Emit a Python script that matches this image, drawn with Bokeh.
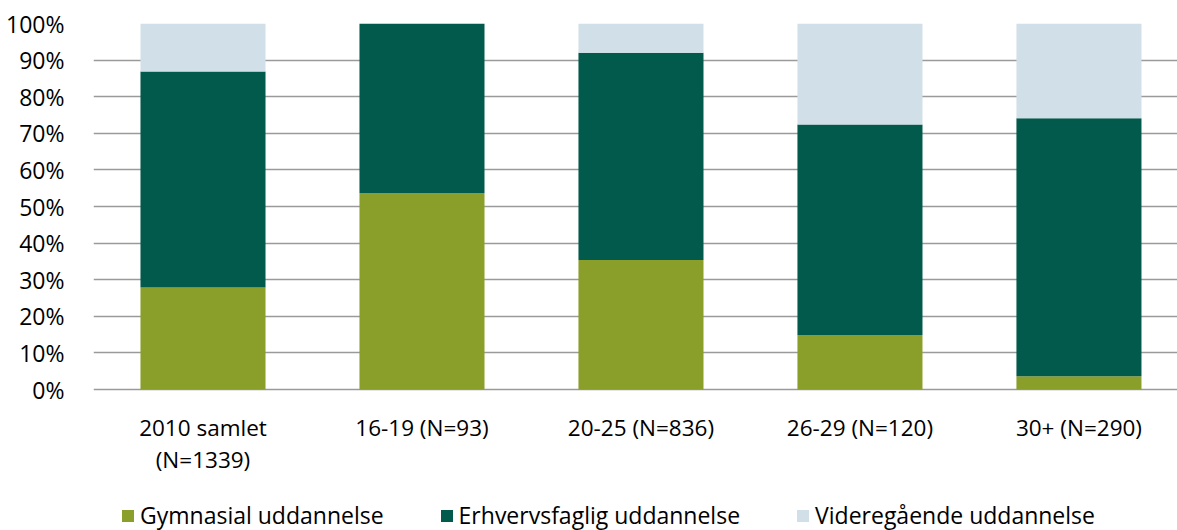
from bokeh.plotting import figure
from bokeh.models import (Range1d, FixedTicker, PrintfTickFormatter, ColumnDataSource,
                          Legend, LegendItem)
from bokeh.embed import file_html
from bokeh.resources import INLINE

# ---- data ----
categories = ["2010 samlet\n(N=1339)", "16-19 (N=93)", "20-25 (N=836)", "26-29 (N=120)", "30+ (N=290)"]
series_names = ["Gymnasial uddannelse", "Erhvervsfaglig uddannelse", "Videregående uddannelse"]
gymnasial = [27.9, 53.7, 35.4, 14.9, 3.6]
erhvervsfaglig = [59.0, 46.3, 56.6, 57.5, 70.5]
videregaende = [13.1, 0.0, 8.0, 27.6, 25.9]
y_ticks = [0, 10, 20, 30, 40, 50, 60, 70, 80, 90, 100]

colors = ["#8A9E2A", "#025A4C", "#D1E0E8"]
FONT = "Open Sans"

# layout: frame spans from y=23 to the bottom (530); 0% sits at y=389
PX_PER_PCT = 3.66
y_min = -(530 - 389) / PX_PER_PCT

x = list(range(len(categories)))
source = ColumnDataSource(dict(x=x, g=gymnasial, e=erhvervsfaglig, v=videregaende))

p = figure(width=1177, height=530, output_backend="svg", toolbar_location=None,
           x_range=Range1d(-0.5, 4.45), y_range=Range1d(y_min, 100),
           min_border_left=93, min_border_right=0, min_border_top=23, min_border_bottom=0,
           background_fill_color="white", border_fill_color="white")
p.outline_line_color = None

renderers = p.vbar_stack(["g", "e", "v"], x="x", width=0.571, source=source,
                         color=colors, line_color=None)

# axes
p.xaxis.fixed_location = 0
p.xaxis.ticker = FixedTicker(ticks=x)
p.xaxis.major_label_overrides = {i: c for i, c in zip(x, categories)}
p.yaxis.ticker = FixedTicker(ticks=y_ticks)
p.yaxis.formatter = PrintfTickFormatter(format="%d%%")
for ax in (p.xaxis[0], p.yaxis[0]):
    ax.axis_line_color = None
    ax.major_tick_line_color = None
    ax.minor_tick_line_color = None
    ax.major_label_text_font = FONT
    ax.major_label_text_font_size = "22.5px"
    ax.major_label_text_color = "black"
p.yaxis.major_label_text_font_size = "23px"
p.yaxis.major_label_standoff = 23
p.xaxis.major_label_standoff = 16
p.xaxis.major_label_text_line_height = 1.05

p.xgrid.grid_line_color = None
p.ygrid.grid_line_color = "#9a9a9a"
p.ygrid.grid_line_width = 1.5
p.ygrid.ticker = FixedTicker(ticks=y_ticks)

legend = Legend(items=[LegendItem(label=n, renderers=[r]) for n, r in zip(series_names, renderers)],
                orientation="horizontal", location=(27, -1),
                glyph_width=15, glyph_height=15, label_standoff=5, spacing=55,
                padding=0, margin=0, border_line_color=None, background_fill_alpha=0,
                label_text_font=FONT, label_text_font_size="23px", label_text_color="black")
p.add_layout(legend, "center")

open("out.html", "w").write(file_html(p, INLINE))
